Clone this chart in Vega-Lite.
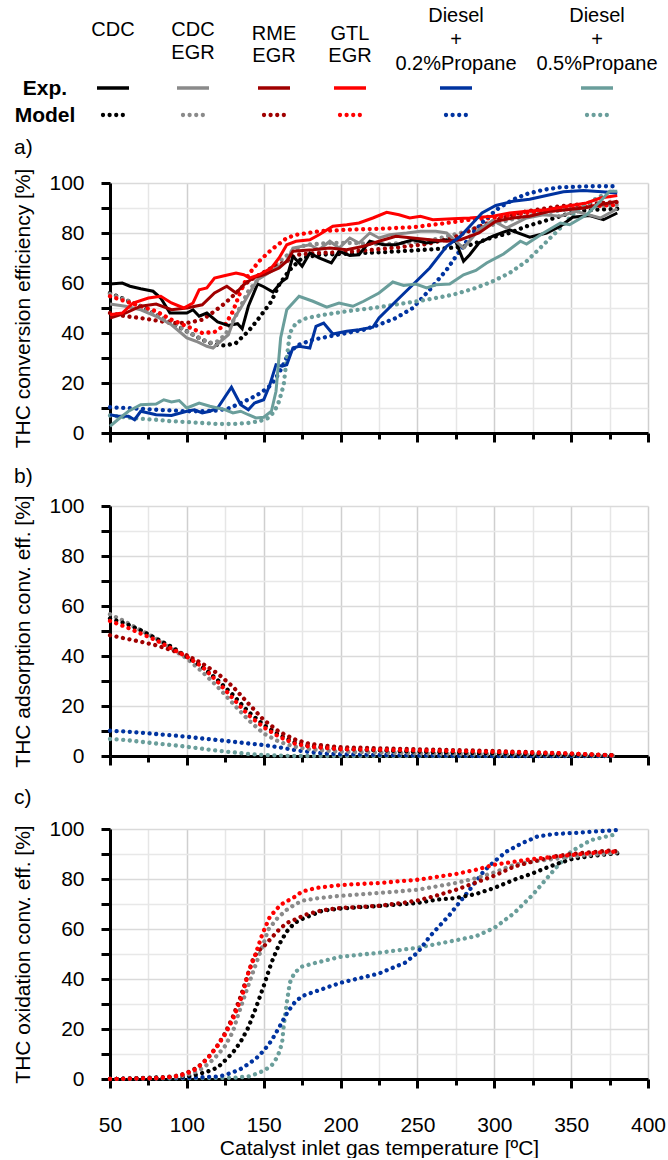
{
"$schema": "https://vega.github.io/schema/vega-lite/v6.json",
"padding": {"left": 12, "top": 0, "right": 0, "bottom": 0},
"config": {"font": "Liberation Sans", "view": {"stroke": null},
 "axis": {"domainColor": "#000000", "domainWidth": 3, "tickColor": "#000000", "tickWidth": 3, "labelFontSize": 21, "labelColor": "#000000", "titleFontSize": 21, "titleFontWeight": "normal", "titleColor": "#000000", "gridWidth": 1.5, "labelOverlap": false, "labelFlush": false},
 "title": {"fontSize": 21, "fontWeight": "normal", "color": "#000000", "anchor": "start", "frame": "group"}},
"datasets": {
"legText": [
 {"t":"CDC","x":3,"y":30,"b":0},{"t":"CDC","x":83,"y":30,"b":0},{"t":"EGR","x":83,"y":53,"b":0},
 {"t":"RME","x":164,"y":34,"b":0},{"t":"EGR","x":164,"y":56,"b":0},
 {"t":"GTL","x":240,"y":34,"b":0},{"t":"EGR","x":240,"y":56,"b":0},
 {"t":"Diesel","x":346,"y":16,"b":0},{"t":"+","x":346,"y":40,"b":0},{"t":"0.2%Propane","x":346,"y":64,"b":0},
 {"t":"Diesel","x":487,"y":16,"b":0},{"t":"+","x":487,"y":40,"b":0},{"t":"0.5%Propane","x":487,"y":64,"b":0},
 {"t":"Exp.","x":-65,"y":89,"b":1},{"t":"Model","x":-65,"y":116,"b":1}],
"legLine": [
 {"s":"CDC","k":"e","x":-13,"y":88},{"s":"CDC","k":"e","x":19,"y":88},
 {"s":"CDC EGR","k":"e","x":67,"y":88},{"s":"CDC EGR","k":"e","x":99,"y":88},
 {"s":"RME EGR","k":"e","x":148,"y":88},{"s":"RME EGR","k":"e","x":180,"y":88},
 {"s":"GTL EGR","k":"e","x":224,"y":88},{"s":"GTL EGR","k":"e","x":256,"y":88},
 {"s":"D02","k":"e","x":330,"y":88},{"s":"D02","k":"e","x":362,"y":88},
 {"s":"D05","k":"e","x":471,"y":88},{"s":"D05","k":"e","x":503,"y":88},
 {"s":"CDC","k":"m","x":-7,"y":115},{"s":"CDC","k":"m","x":13,"y":115},
 {"s":"CDC EGR","k":"m","x":73,"y":115},{"s":"CDC EGR","k":"m","x":93,"y":115},
 {"s":"RME EGR","k":"m","x":154,"y":115},{"s":"RME EGR","k":"m","x":174,"y":115},
 {"s":"GTL EGR","k":"m","x":230,"y":115},{"s":"GTL EGR","k":"m","x":250,"y":115},
 {"s":"D02","k":"m","x":336,"y":115},{"s":"D02","k":"m","x":356,"y":115},
 {"s":"D05","k":"m","x":477,"y":115},{"s":"D05","k":"m","x":497,"y":115}],
"aexp": [
{"s":"CDC","t":50,"v":59.6},{"s":"CDC","t":58,"v":60},{"s":"CDC","t":63,"v":58.7},{"s":"CDC","t":70,"v":57.7},{"s":"CDC","t":78,"v":56.7},{"s":"CDC","t":83,"v":54},{"s":"CDC","t":89,"v":48},{"s":"CDC","t":100,"v":48},{"s":"CDC","t":104,"v":49.3},{"s":"CDC","t":108,"v":46.7},{"s":"CDC","t":113,"v":48},{"s":"CDC","t":120,"v":44.4},{"s":"CDC","t":127,"v":43},{"s":"CDC","t":133,"v":43.7},{"s":"CDC","t":136,"v":41.7},{"s":"CDC","t":140,"v":50.7},{"s":"CDC","t":146,"v":59.6},{"s":"CDC","t":150,"v":58.5},{"s":"CDC","t":156,"v":56.4},{"s":"CDC","t":162,"v":60.7},{"s":"CDC","t":165,"v":62},{"s":"CDC","t":169,"v":70.7},{"s":"CDC","t":175,"v":66.7},{"s":"CDC","t":180,"v":72},{"s":"CDC","t":186,"v":70},{"s":"CDC","t":194,"v":68},{"s":"CDC","t":199,"v":72.7},{"s":"CDC","t":206,"v":71},{"s":"CDC","t":212,"v":71.3},{"s":"CDC","t":219,"v":76.7},{"s":"CDC","t":228,"v":75.3},{"s":"CDC","t":236,"v":75.3},{"s":"CDC","t":247,"v":77.3},{"s":"CDC","t":256,"v":76},{"s":"CDC","t":269,"v":77.3},{"s":"CDC","t":275,"v":76.5},{"s":"CDC","t":280,"v":68.7},{"s":"CDC","t":284,"v":71.3},{"s":"CDC","t":290,"v":76},{"s":"CDC","t":299,"v":78.7},{"s":"CDC","t":310,"v":81.3},{"s":"CDC","t":323,"v":78.3},{"s":"CDC","t":334,"v":80},{"s":"CDC","t":343,"v":82.7},{"s":"CDC","t":351,"v":86.3},{"s":"CDC","t":362,"v":87},{"s":"CDC","t":371,"v":85.3},{"s":"CDC","t":380,"v":88},
{"s":"CDC EGR","t":50,"v":51.6},{"s":"CDC EGR","t":60,"v":50.7},{"s":"CDC EGR","t":70,"v":49.3},{"s":"CDC EGR","t":80,"v":46.7},{"s":"CDC EGR","t":90,"v":43.3},{"s":"CDC EGR","t":100,"v":38},{"s":"CDC EGR","t":106,"v":36.7},{"s":"CDC EGR","t":113,"v":34.7},{"s":"CDC EGR","t":117,"v":34},{"s":"CDC EGR","t":122,"v":36.7},{"s":"CDC EGR","t":127,"v":39.3},{"s":"CDC EGR","t":131,"v":46},{"s":"CDC EGR","t":136,"v":51},{"s":"CDC EGR","t":140,"v":55.3},{"s":"CDC EGR","t":146,"v":61.3},{"s":"CDC EGR","t":155,"v":64.7},{"s":"CDC EGR","t":165,"v":68.7},{"s":"CDC EGR","t":169,"v":74},{"s":"CDC EGR","t":180,"v":75.3},{"s":"CDC EGR","t":186,"v":73.3},{"s":"CDC EGR","t":193,"v":76.7},{"s":"CDC EGR","t":199,"v":74},{"s":"CDC EGR","t":206,"v":78},{"s":"CDC EGR","t":212,"v":76},{"s":"CDC EGR","t":219,"v":80},{"s":"CDC EGR","t":225,"v":78},{"s":"CDC EGR","t":232,"v":79.3},{"s":"CDC EGR","t":243,"v":80},{"s":"CDC EGR","t":252,"v":80.7},{"s":"CDC EGR","t":262,"v":80.7},{"s":"CDC EGR","t":269,"v":80},{"s":"CDC EGR","t":275,"v":76.7},{"s":"CDC EGR","t":280,"v":74},{"s":"CDC EGR","t":290,"v":81.3},{"s":"CDC EGR","t":299,"v":85},{"s":"CDC EGR","t":308,"v":82},{"s":"CDC EGR","t":321,"v":86},{"s":"CDC EGR","t":332,"v":87.3},{"s":"CDC EGR","t":343,"v":86.7},{"s":"CDC EGR","t":353,"v":88.7},{"s":"CDC EGR","t":369,"v":86},{"s":"CDC EGR","t":380,"v":89.7},
{"s":"RME EGR","t":50,"v":46},{"s":"RME EGR","t":60,"v":48},{"s":"RME EGR","t":70,"v":50.7},{"s":"RME EGR","t":80,"v":51.6},{"s":"RME EGR","t":90,"v":49.3},{"s":"RME EGR","t":100,"v":50},{"s":"RME EGR","t":110,"v":51.3},{"s":"RME EGR","t":118,"v":56},{"s":"RME EGR","t":126,"v":58.7},{"s":"RME EGR","t":132,"v":56},{"s":"RME EGR","t":137,"v":59.3},{"s":"RME EGR","t":143,"v":62},{"s":"RME EGR","t":150,"v":63.3},{"s":"RME EGR","t":160,"v":66},{"s":"RME EGR","t":165,"v":68.7},{"s":"RME EGR","t":169,"v":72.7},{"s":"RME EGR","t":182,"v":73.3},{"s":"RME EGR","t":193,"v":74},{"s":"RME EGR","t":204,"v":73.3},{"s":"RME EGR","t":215,"v":74.7},{"s":"RME EGR","t":225,"v":76.7},{"s":"RME EGR","t":236,"v":78.7},{"s":"RME EGR","t":247,"v":78},{"s":"RME EGR","t":258,"v":77.3},{"s":"RME EGR","t":269,"v":76.7},{"s":"RME EGR","t":278,"v":77.3},{"s":"RME EGR","t":290,"v":80},{"s":"RME EGR","t":301,"v":84.7},{"s":"RME EGR","t":312,"v":86},{"s":"RME EGR","t":323,"v":86.7},{"s":"RME EGR","t":336,"v":88.7},{"s":"RME EGR","t":347,"v":89.3},{"s":"RME EGR","t":358,"v":90},{"s":"RME EGR","t":369,"v":91.3},{"s":"RME EGR","t":380,"v":92.7},
{"s":"GTL EGR","t":50,"v":47.3},{"s":"GTL EGR","t":58,"v":48},{"s":"GTL EGR","t":65,"v":52},{"s":"GTL EGR","t":75,"v":54},{"s":"GTL EGR","t":83,"v":54.7},{"s":"GTL EGR","t":90,"v":52},{"s":"GTL EGR","t":98,"v":50},{"s":"GTL EGR","t":104,"v":52},{"s":"GTL EGR","t":108,"v":57.3},{"s":"GTL EGR","t":113,"v":58},{"s":"GTL EGR","t":118,"v":62},{"s":"GTL EGR","t":125,"v":63},{"s":"GTL EGR","t":132,"v":64},{"s":"GTL EGR","t":137,"v":63.3},{"s":"GTL EGR","t":141,"v":62},{"s":"GTL EGR","t":147,"v":63.3},{"s":"GTL EGR","t":155,"v":66},{"s":"GTL EGR","t":160,"v":70},{"s":"GTL EGR","t":165,"v":75.3},{"s":"GTL EGR","t":171,"v":76.7},{"s":"GTL EGR","t":180,"v":77.3},{"s":"GTL EGR","t":186,"v":79.3},{"s":"GTL EGR","t":195,"v":82.7},{"s":"GTL EGR","t":204,"v":83.3},{"s":"GTL EGR","t":212,"v":84},{"s":"GTL EGR","t":221,"v":86},{"s":"GTL EGR","t":230,"v":88.3},{"s":"GTL EGR","t":238,"v":87.3},{"s":"GTL EGR","t":245,"v":86},{"s":"GTL EGR","t":252,"v":86.7},{"s":"GTL EGR","t":260,"v":85.3},{"s":"GTL EGR","t":273,"v":85.7},{"s":"GTL EGR","t":284,"v":86},{"s":"GTL EGR","t":299,"v":86.7},{"s":"GTL EGR","t":310,"v":88},{"s":"GTL EGR","t":321,"v":88.7},{"s":"GTL EGR","t":334,"v":89.3},{"s":"GTL EGR","t":347,"v":90.7},{"s":"GTL EGR","t":360,"v":92},{"s":"GTL EGR","t":369,"v":94},{"s":"GTL EGR","t":380,"v":95},
{"s":"D02","t":50,"v":7.3},{"s":"D02","t":55,"v":6.7},{"s":"D02","t":62,"v":6.7},{"s":"D02","t":66,"v":5.3},{"s":"D02","t":70,"v":8.7},{"s":"D02","t":80,"v":7.3},{"s":"D02","t":90,"v":7},{"s":"D02","t":100,"v":8.7},{"s":"D02","t":105,"v":9.3},{"s":"D02","t":110,"v":8},{"s":"D02","t":115,"v":8.7},{"s":"D02","t":120,"v":10},{"s":"D02","t":129,"v":18.3},{"s":"D02","t":135,"v":11.3},{"s":"D02","t":140,"v":9.3},{"s":"D02","t":144,"v":12},{"s":"D02","t":150,"v":13.3},{"s":"D02","t":154,"v":19.3},{"s":"D02","t":158,"v":27.3},{"s":"D02","t":162,"v":26.7},{"s":"D02","t":165,"v":27.3},{"s":"D02","t":169,"v":34},{"s":"D02","t":173,"v":34.7},{"s":"D02","t":180,"v":34},{"s":"D02","t":184,"v":42.7},{"s":"D02","t":189,"v":44},{"s":"D02","t":195,"v":39.6},{"s":"D02","t":204,"v":40.7},{"s":"D02","t":212,"v":41.3},{"s":"D02","t":221,"v":42.3},{"s":"D02","t":225,"v":46},{"s":"D02","t":236,"v":52.7},{"s":"D02","t":247,"v":59.3},{"s":"D02","t":258,"v":66},{"s":"D02","t":269,"v":74.7},{"s":"D02","t":278,"v":78.7},{"s":"D02","t":286,"v":84},{"s":"D02","t":292,"v":88},{"s":"D02","t":301,"v":91},{"s":"D02","t":312,"v":92.7},{"s":"D02","t":323,"v":93.5},{"s":"D02","t":334,"v":95},{"s":"D02","t":345,"v":96.5},{"s":"D02","t":358,"v":97},{"s":"D02","t":370,"v":96.5},{"s":"D02","t":380,"v":96},
{"s":"D05","t":50,"v":2.7},{"s":"D05","t":55,"v":5.3},{"s":"D05","t":62,"v":8.7},{"s":"D05","t":70,"v":11.3},{"s":"D05","t":80,"v":11.6},{"s":"D05","t":85,"v":13.3},{"s":"D05","t":90,"v":12.4},{"s":"D05","t":95,"v":13},{"s":"D05","t":100,"v":10},{"s":"D05","t":108,"v":12},{"s":"D05","t":115,"v":10.7},{"s":"D05","t":120,"v":10},{"s":"D05","t":125,"v":9.3},{"s":"D05","t":130,"v":8},{"s":"D05","t":135,"v":8.7},{"s":"D05","t":140,"v":7.3},{"s":"D05","t":145,"v":6},{"s":"D05","t":150,"v":6.3},{"s":"D05","t":155,"v":8.7},{"s":"D05","t":158,"v":16.7},{"s":"D05","t":161,"v":38},{"s":"D05","t":165,"v":49.3},{"s":"D05","t":173,"v":54.7},{"s":"D05","t":182,"v":52.7},{"s":"D05","t":191,"v":50.3},{"s":"D05","t":199,"v":52},{"s":"D05","t":208,"v":50.7},{"s":"D05","t":215,"v":52.7},{"s":"D05","t":225,"v":56},{"s":"D05","t":234,"v":60.4},{"s":"D05","t":241,"v":59},{"s":"D05","t":249,"v":59.6},{"s":"D05","t":256,"v":58},{"s":"D05","t":262,"v":59.3},{"s":"D05","t":271,"v":59.6},{"s":"D05","t":280,"v":63.3},{"s":"D05","t":288,"v":65},{"s":"D05","t":295,"v":68},{"s":"D05","t":306,"v":71.6},{"s":"D05","t":317,"v":76.7},{"s":"D05","t":321,"v":75.6},{"s":"D05","t":332,"v":80},{"s":"D05","t":343,"v":84},{"s":"D05","t":349,"v":83.3},{"s":"D05","t":360,"v":87.3},{"s":"D05","t":369,"v":92.7},{"s":"D05","t":375,"v":96.7},{"s":"D05","t":380,"v":96.7}],
"amod": [
{"s":"CDC","t":50,"v":56},{"s":"CDC","t":60,"v":53.3},{"s":"CDC","t":70,"v":50.7},{"s":"CDC","t":80,"v":47.3},{"s":"CDC","t":90,"v":44},{"s":"CDC","t":100,"v":40.7},{"s":"CDC","t":110,"v":37.3},{"s":"CDC","t":118,"v":35.3},{"s":"CDC","t":125,"v":35},{"s":"CDC","t":132,"v":36},{"s":"CDC","t":140,"v":40.7},{"s":"CDC","t":147,"v":46},{"s":"CDC","t":155,"v":52.7},{"s":"CDC","t":160,"v":59.3},{"s":"CDC","t":167,"v":65.3},{"s":"CDC","t":175,"v":70},{"s":"CDC","t":186,"v":71.3},{"s":"CDC","t":199,"v":71.6},{"s":"CDC","t":215,"v":72},{"s":"CDC","t":230,"v":72.4},{"s":"CDC","t":247,"v":73},{"s":"CDC","t":265,"v":73.7},{"s":"CDC","t":282,"v":74.7},{"s":"CDC","t":288,"v":76},{"s":"CDC","t":299,"v":78.3},{"s":"CDC","t":310,"v":80},{"s":"CDC","t":321,"v":82.7},{"s":"CDC","t":332,"v":84.7},{"s":"CDC","t":343,"v":86.7},{"s":"CDC","t":353,"v":88.7},{"s":"CDC","t":365,"v":89.3},{"s":"CDC","t":380,"v":89.7},
{"s":"CDC EGR","t":50,"v":55.6},{"s":"CDC EGR","t":60,"v":53.3},{"s":"CDC EGR","t":70,"v":50.7},{"s":"CDC EGR","t":80,"v":47.3},{"s":"CDC EGR","t":90,"v":44.4},{"s":"CDC EGR","t":100,"v":40.7},{"s":"CDC EGR","t":110,"v":37.3},{"s":"CDC EGR","t":115,"v":36},{"s":"CDC EGR","t":120,"v":36.7},{"s":"CDC EGR","t":125,"v":39.3},{"s":"CDC EGR","t":130,"v":44.7},{"s":"CDC EGR","t":135,"v":50.7},{"s":"CDC EGR","t":140,"v":56.7},{"s":"CDC EGR","t":147,"v":62},{"s":"CDC EGR","t":155,"v":66},{"s":"CDC EGR","t":163,"v":70},{"s":"CDC EGR","t":170,"v":73.5},{"s":"CDC EGR","t":178,"v":75.3},{"s":"CDC EGR","t":193,"v":76},{"s":"CDC EGR","t":208,"v":76},{"s":"CDC EGR","t":225,"v":75.5},{"s":"CDC EGR","t":243,"v":76},{"s":"CDC EGR","t":260,"v":77.3},{"s":"CDC EGR","t":278,"v":80},{"s":"CDC EGR","t":288,"v":82},{"s":"CDC EGR","t":299,"v":83.3},{"s":"CDC EGR","t":310,"v":85.3},{"s":"CDC EGR","t":321,"v":86.7},{"s":"CDC EGR","t":332,"v":88},{"s":"CDC EGR","t":343,"v":89},{"s":"CDC EGR","t":353,"v":90},{"s":"CDC EGR","t":365,"v":90.7},{"s":"CDC EGR","t":380,"v":91.3},
{"s":"RME EGR","t":50,"v":48},{"s":"RME EGR","t":60,"v":46.7},{"s":"RME EGR","t":70,"v":46},{"s":"RME EGR","t":80,"v":45},{"s":"RME EGR","t":90,"v":44},{"s":"RME EGR","t":100,"v":44},{"s":"RME EGR","t":110,"v":45.3},{"s":"RME EGR","t":118,"v":48.7},{"s":"RME EGR","t":125,"v":52},{"s":"RME EGR","t":132,"v":56},{"s":"RME EGR","t":140,"v":60.7},{"s":"RME EGR","t":147,"v":63.3},{"s":"RME EGR","t":155,"v":66},{"s":"RME EGR","t":165,"v":68.7},{"s":"RME EGR","t":171,"v":71.3},{"s":"RME EGR","t":186,"v":72},{"s":"RME EGR","t":204,"v":72.4},{"s":"RME EGR","t":221,"v":73.3},{"s":"RME EGR","t":238,"v":74.3},{"s":"RME EGR","t":256,"v":75.6},{"s":"RME EGR","t":273,"v":78},{"s":"RME EGR","t":288,"v":82},{"s":"RME EGR","t":299,"v":84.7},{"s":"RME EGR","t":310,"v":87},{"s":"RME EGR","t":321,"v":88.7},{"s":"RME EGR","t":332,"v":89.7},{"s":"RME EGR","t":343,"v":90.7},{"s":"RME EGR","t":353,"v":91.3},{"s":"RME EGR","t":380,"v":92.4},
{"s":"GTL EGR","t":50,"v":54.7},{"s":"GTL EGR","t":60,"v":52.7},{"s":"GTL EGR","t":70,"v":50.7},{"s":"GTL EGR","t":80,"v":48.7},{"s":"GTL EGR","t":90,"v":45.3},{"s":"GTL EGR","t":100,"v":42.7},{"s":"GTL EGR","t":110,"v":40},{"s":"GTL EGR","t":118,"v":40.4},{"s":"GTL EGR","t":125,"v":43.3},{"s":"GTL EGR","t":130,"v":48.7},{"s":"GTL EGR","t":135,"v":56.7},{"s":"GTL EGR","t":140,"v":63.3},{"s":"GTL EGR","t":147,"v":68.7},{"s":"GTL EGR","t":155,"v":73.3},{"s":"GTL EGR","t":165,"v":78},{"s":"GTL EGR","t":171,"v":79.3},{"s":"GTL EGR","t":186,"v":80.7},{"s":"GTL EGR","t":204,"v":81.3},{"s":"GTL EGR","t":225,"v":81.7},{"s":"GTL EGR","t":247,"v":82.3},{"s":"GTL EGR","t":269,"v":84},{"s":"GTL EGR","t":284,"v":85.3},{"s":"GTL EGR","t":299,"v":86},{"s":"GTL EGR","t":321,"v":88},{"s":"GTL EGR","t":343,"v":89.3},{"s":"GTL EGR","t":365,"v":90.7},{"s":"GTL EGR","t":380,"v":91.3},
{"s":"D02","t":50,"v":10.3},{"s":"D02","t":60,"v":10},{"s":"D02","t":70,"v":9.7},{"s":"D02","t":80,"v":9.3},{"s":"D02","t":90,"v":9},{"s":"D02","t":100,"v":8.7},{"s":"D02","t":110,"v":8.7},{"s":"D02","t":120,"v":9},{"s":"D02","t":128,"v":10},{"s":"D02","t":135,"v":12},{"s":"D02","t":142,"v":14},{"s":"D02","t":148,"v":16},{"s":"D02","t":155,"v":19.3},{"s":"D02","t":160,"v":24},{"s":"D02","t":167,"v":32.7},{"s":"D02","t":173,"v":35.3},{"s":"D02","t":182,"v":37.3},{"s":"D02","t":193,"v":38.7},{"s":"D02","t":204,"v":40},{"s":"D02","t":215,"v":41.3},{"s":"D02","t":225,"v":43.3},{"s":"D02","t":236,"v":46},{"s":"D02","t":247,"v":50},{"s":"D02","t":258,"v":57.3},{"s":"D02","t":269,"v":65.3},{"s":"D02","t":278,"v":73.3},{"s":"D02","t":286,"v":80},{"s":"D02","t":295,"v":86},{"s":"D02","t":303,"v":90},{"s":"D02","t":312,"v":93.3},{"s":"D02","t":321,"v":95.6},{"s":"D02","t":332,"v":97.3},{"s":"D02","t":343,"v":98.3},{"s":"D02","t":364,"v":98.7},{"s":"D02","t":380,"v":98.7},
{"s":"D05","t":50,"v":7},{"s":"D05","t":60,"v":6.3},{"s":"D05","t":70,"v":5.7},{"s":"D05","t":80,"v":5.3},{"s":"D05","t":90,"v":4.7},{"s":"D05","t":100,"v":4.4},{"s":"D05","t":110,"v":4},{"s":"D05","t":120,"v":3.6},{"s":"D05","t":130,"v":3.6},{"s":"D05","t":140,"v":4},{"s":"D05","t":147,"v":4.7},{"s":"D05","t":153,"v":6},{"s":"D05","t":157,"v":8.7},{"s":"D05","t":160,"v":12.7},{"s":"D05","t":163,"v":19.3},{"s":"D05","t":165,"v":30},{"s":"D05","t":167,"v":40},{"s":"D05","t":171,"v":44},{"s":"D05","t":178,"v":46},{"s":"D05","t":189,"v":47.3},{"s":"D05","t":204,"v":48.7},{"s":"D05","t":221,"v":50},{"s":"D05","t":238,"v":51.6},{"s":"D05","t":256,"v":53.3},{"s":"D05","t":273,"v":55.3},{"s":"D05","t":288,"v":58},{"s":"D05","t":299,"v":60.7},{"s":"D05","t":310,"v":64},{"s":"D05","t":321,"v":68.7},{"s":"D05","t":332,"v":75.3},{"s":"D05","t":343,"v":82},{"s":"D05","t":353,"v":88.7},{"s":"D05","t":365,"v":93.3},{"s":"D05","t":373,"v":96},{"s":"D05","t":380,"v":96.7}],
"bmod": [
{"s":"D05","t":50,"v":6.8},{"s":"D05","t":60,"v":6.4},{"s":"D05","t":70,"v":5.7},{"s":"D05","t":80,"v":5},{"s":"D05","t":90,"v":4.4},{"s":"D05","t":100,"v":3.7},{"s":"D05","t":110,"v":2.9},{"s":"D05","t":120,"v":2.1},{"s":"D05","t":130,"v":1.5},{"s":"D05","t":140,"v":0.8},{"s":"D05","t":150,"v":0.4},{"s":"D05","t":160,"v":0.2},{"s":"D05","t":170,"v":0},{"s":"D05","t":380,"v":0},
{"s":"D02","t":50,"v":10.1},{"s":"D02","t":60,"v":9.8},{"s":"D02","t":70,"v":9.3},{"s":"D02","t":80,"v":8.8},{"s":"D02","t":90,"v":8.3},{"s":"D02","t":100,"v":7.7},{"s":"D02","t":110,"v":7},{"s":"D02","t":120,"v":6.4},{"s":"D02","t":130,"v":5.7},{"s":"D02","t":140,"v":5},{"s":"D02","t":150,"v":4.4},{"s":"D02","t":160,"v":3.5},{"s":"D02","t":170,"v":2.4},{"s":"D02","t":180,"v":1.6},{"s":"D02","t":190,"v":1},{"s":"D02","t":200,"v":0.7},{"s":"D02","t":250,"v":0.2},{"s":"D02","t":300,"v":0},{"s":"D02","t":380,"v":0},
{"s":"CDC EGR","t":50,"v":56.7},{"s":"CDC EGR","t":60,"v":53.7},{"s":"CDC EGR","t":70,"v":50.3},{"s":"CDC EGR","t":80,"v":47},{"s":"CDC EGR","t":90,"v":43},{"s":"CDC EGR","t":100,"v":39},{"s":"CDC EGR","t":110,"v":33.7},{"s":"CDC EGR","t":120,"v":27.7},{"s":"CDC EGR","t":130,"v":21},{"s":"CDC EGR","t":140,"v":14.4},{"s":"CDC EGR","t":150,"v":9},{"s":"CDC EGR","t":160,"v":5.7},{"s":"CDC EGR","t":170,"v":3.7},{"s":"CDC EGR","t":180,"v":2.7},{"s":"CDC EGR","t":200,"v":1.7},{"s":"CDC EGR","t":250,"v":1},{"s":"CDC EGR","t":300,"v":0.7},{"s":"CDC EGR","t":350,"v":0.3},{"s":"CDC EGR","t":380,"v":0.1},
{"s":"CDC","t":50,"v":55},{"s":"CDC","t":60,"v":53},{"s":"CDC","t":70,"v":50.3},{"s":"CDC","t":80,"v":47},{"s":"CDC","t":90,"v":43.7},{"s":"CDC","t":100,"v":39.7},{"s":"CDC","t":110,"v":35.7},{"s":"CDC","t":120,"v":30.4},{"s":"CDC","t":130,"v":24.4},{"s":"CDC","t":140,"v":17.7},{"s":"CDC","t":150,"v":12.4},{"s":"CDC","t":160,"v":8.4},{"s":"CDC","t":170,"v":5.5},{"s":"CDC","t":180,"v":4},{"s":"CDC","t":200,"v":2.8},{"s":"CDC","t":250,"v":1.7},{"s":"CDC","t":300,"v":1},{"s":"CDC","t":350,"v":0.5},{"s":"CDC","t":380,"v":0.3},
{"s":"RME EGR","t":50,"v":48.3},{"s":"RME EGR","t":60,"v":47},{"s":"RME EGR","t":70,"v":45.7},{"s":"RME EGR","t":80,"v":44.3},{"s":"RME EGR","t":90,"v":42.3},{"s":"RME EGR","t":100,"v":40.3},{"s":"RME EGR","t":110,"v":37},{"s":"RME EGR","t":120,"v":33},{"s":"RME EGR","t":130,"v":27.7},{"s":"RME EGR","t":140,"v":21},{"s":"RME EGR","t":150,"v":14.4},{"s":"RME EGR","t":160,"v":9.7},{"s":"RME EGR","t":170,"v":6.7},{"s":"RME EGR","t":180,"v":4.8},{"s":"RME EGR","t":200,"v":3.5},{"s":"RME EGR","t":250,"v":2.7},{"s":"RME EGR","t":300,"v":2},{"s":"RME EGR","t":350,"v":1},{"s":"RME EGR","t":380,"v":0.2},
{"s":"GTL EGR","t":50,"v":54},{"s":"GTL EGR","t":60,"v":51.7},{"s":"GTL EGR","t":70,"v":49},{"s":"GTL EGR","t":80,"v":46.3},{"s":"GTL EGR","t":90,"v":43},{"s":"GTL EGR","t":100,"v":39.7},{"s":"GTL EGR","t":110,"v":35.7},{"s":"GTL EGR","t":120,"v":29.7},{"s":"GTL EGR","t":130,"v":23},{"s":"GTL EGR","t":140,"v":16.4},{"s":"GTL EGR","t":150,"v":11.5},{"s":"GTL EGR","t":160,"v":7.7},{"s":"GTL EGR","t":170,"v":5},{"s":"GTL EGR","t":180,"v":3.7},{"s":"GTL EGR","t":200,"v":2.7},{"s":"GTL EGR","t":250,"v":2.2},{"s":"GTL EGR","t":300,"v":1.6},{"s":"GTL EGR","t":350,"v":1},{"s":"GTL EGR","t":377,"v":0.2}],
"cmod": [
{"s":"D05","t":50,"v":0},{"s":"D05","t":130,"v":0.5},{"s":"D05","t":140,"v":1},{"s":"D05","t":145,"v":2},{"s":"D05","t":150,"v":3.3},{"s":"D05","t":155,"v":5.3},{"s":"D05","t":158,"v":8},{"s":"D05","t":160,"v":10.6},{"s":"D05","t":162,"v":14.6},{"s":"D05","t":163,"v":21.2},{"s":"D05","t":165,"v":30.5},{"s":"D05","t":167,"v":38.5},{"s":"D05","t":170,"v":42.5},{"s":"D05","t":175,"v":45},{"s":"D05","t":184,"v":46.5},{"s":"D05","t":200,"v":48.9},{"s":"D05","t":225,"v":50.5},{"s":"D05","t":250,"v":52.5},{"s":"D05","t":275,"v":55.5},{"s":"D05","t":288,"v":57.1},{"s":"D05","t":300,"v":60.4},{"s":"D05","t":313,"v":66.4},{"s":"D05","t":325,"v":73.7},{"s":"D05","t":339,"v":83.7},{"s":"D05","t":350,"v":91},{"s":"D05","t":363,"v":95.6},{"s":"D05","t":380,"v":98},
{"s":"D02","t":50,"v":0},{"s":"D02","t":110,"v":0.7},{"s":"D02","t":120,"v":1},{"s":"D02","t":125,"v":1.6},{"s":"D02","t":130,"v":2.7},{"s":"D02","t":135,"v":4},{"s":"D02","t":140,"v":6},{"s":"D02","t":145,"v":8.2},{"s":"D02","t":150,"v":11.3},{"s":"D02","t":155,"v":15.3},{"s":"D02","t":160,"v":20.6},{"s":"D02","t":163,"v":24},{"s":"D02","t":166,"v":27.2},{"s":"D02","t":170,"v":30.5},{"s":"D02","t":175,"v":33.2},{"s":"D02","t":184,"v":35.1},{"s":"D02","t":200,"v":38.5},{"s":"D02","t":225,"v":42.2},{"s":"D02","t":242,"v":46.5},{"s":"D02","t":250,"v":50.5},{"s":"D02","t":258,"v":57},{"s":"D02","t":264,"v":61},{"s":"D02","t":271,"v":65.7},{"s":"D02","t":277,"v":70.4},{"s":"D02","t":284,"v":75.7},{"s":"D02","t":293,"v":83},{"s":"D02","t":300,"v":87},{"s":"D02","t":308,"v":91},{"s":"D02","t":317,"v":94},{"s":"D02","t":328,"v":97},{"s":"D02","t":339,"v":98},{"s":"D02","t":354,"v":98.5},{"s":"D02","t":380,"v":99.6},
{"s":"CDC","t":50,"v":0},{"s":"CDC","t":100,"v":1},{"s":"CDC","t":105,"v":1.6},{"s":"CDC","t":110,"v":2.4},{"s":"CDC","t":115,"v":3.3},{"s":"CDC","t":120,"v":4.6},{"s":"CDC","t":125,"v":7.5},{"s":"CDC","t":130,"v":10.6},{"s":"CDC","t":135,"v":14.9},{"s":"CDC","t":140,"v":20.6},{"s":"CDC","t":145,"v":28.6},{"s":"CDC","t":150,"v":37.2},{"s":"CDC","t":155,"v":46.5},{"s":"CDC","t":160,"v":53.8},{"s":"CDC","t":165,"v":59},{"s":"CDC","t":170,"v":62.4},{"s":"CDC","t":175,"v":64},{"s":"CDC","t":188,"v":67.3},{"s":"CDC","t":200,"v":68.2},{"s":"CDC","t":225,"v":69.2},{"s":"CDC","t":250,"v":70.4},{"s":"CDC","t":262,"v":71.7},{"s":"CDC","t":275,"v":72.4},{"s":"CDC","t":288,"v":74},{"s":"CDC","t":300,"v":76.4},{"s":"CDC","t":313,"v":79.7},{"s":"CDC","t":325,"v":82.3},{"s":"CDC","t":339,"v":85.7},{"s":"CDC","t":350,"v":87.9},{"s":"CDC","t":363,"v":89.2},{"s":"CDC","t":380,"v":90.3},
{"s":"CDC EGR","t":50,"v":0},{"s":"CDC EGR","t":90,"v":0.5},{"s":"CDC EGR","t":95,"v":1},{"s":"CDC EGR","t":100,"v":1.6},{"s":"CDC EGR","t":105,"v":2.7},{"s":"CDC EGR","t":110,"v":4.2},{"s":"CDC EGR","t":115,"v":6.6},{"s":"CDC EGR","t":120,"v":9.6},{"s":"CDC EGR","t":125,"v":13.3},{"s":"CDC EGR","t":130,"v":19},{"s":"CDC EGR","t":133,"v":25},{"s":"CDC EGR","t":139,"v":35.7},{"s":"CDC EGR","t":142,"v":41},{"s":"CDC EGR","t":146,"v":47.8},{"s":"CDC EGR","t":150,"v":54.4},{"s":"CDC EGR","t":153,"v":59.8},{"s":"CDC EGR","t":159,"v":64.4},{"s":"CDC EGR","t":165,"v":67.7},{"s":"CDC EGR","t":170,"v":69.7},{"s":"CDC EGR","t":175,"v":71.3},{"s":"CDC EGR","t":184,"v":72.2},{"s":"CDC EGR","t":200,"v":73.3},{"s":"CDC EGR","t":225,"v":74.4},{"s":"CDC EGR","t":250,"v":75.7},{"s":"CDC EGR","t":275,"v":78.4},{"s":"CDC EGR","t":288,"v":80.3},{"s":"CDC EGR","t":300,"v":82.6},{"s":"CDC EGR","t":313,"v":85.7},{"s":"CDC EGR","t":325,"v":87},{"s":"CDC EGR","t":339,"v":88},{"s":"CDC EGR","t":350,"v":89},{"s":"CDC EGR","t":375,"v":90.3},{"s":"CDC EGR","t":380,"v":90.7},
{"s":"RME EGR","t":50,"v":0},{"s":"RME EGR","t":80,"v":0.4},{"s":"RME EGR","t":90,"v":1},{"s":"RME EGR","t":95,"v":1.5},{"s":"RME EGR","t":100,"v":2.5},{"s":"RME EGR","t":105,"v":4},{"s":"RME EGR","t":110,"v":6.2},{"s":"RME EGR","t":115,"v":9.5},{"s":"RME EGR","t":120,"v":13.5},{"s":"RME EGR","t":125,"v":18.5},{"s":"RME EGR","t":130,"v":25},{"s":"RME EGR","t":135,"v":33},{"s":"RME EGR","t":140,"v":42.5},{"s":"RME EGR","t":143,"v":47.8},{"s":"RME EGR","t":146,"v":51},{"s":"RME EGR","t":150,"v":53},{"s":"RME EGR","t":155,"v":56.4},{"s":"RME EGR","t":160,"v":59.8},{"s":"RME EGR","t":165,"v":62.4},{"s":"RME EGR","t":170,"v":63.7},{"s":"RME EGR","t":177,"v":65.7},{"s":"RME EGR","t":188,"v":67.5},{"s":"RME EGR","t":200,"v":68.4},{"s":"RME EGR","t":225,"v":69.3},{"s":"RME EGR","t":240,"v":70.4},{"s":"RME EGR","t":250,"v":71.4},{"s":"RME EGR","t":262,"v":73.3},{"s":"RME EGR","t":275,"v":75.7},{"s":"RME EGR","t":288,"v":78.6},{"s":"RME EGR","t":300,"v":81.3},{"s":"RME EGR","t":313,"v":85},{"s":"RME EGR","t":325,"v":87},{"s":"RME EGR","t":339,"v":89},{"s":"RME EGR","t":350,"v":90},{"s":"RME EGR","t":375,"v":91.4},{"s":"RME EGR","t":380,"v":91},
{"s":"GTL EGR","t":50,"v":0},{"s":"GTL EGR","t":80,"v":0.3},{"s":"GTL EGR","t":90,"v":0.8},{"s":"GTL EGR","t":95,"v":1.3},{"s":"GTL EGR","t":100,"v":2.3},{"s":"GTL EGR","t":105,"v":3.7},{"s":"GTL EGR","t":110,"v":6},{"s":"GTL EGR","t":115,"v":9.3},{"s":"GTL EGR","t":120,"v":13.3},{"s":"GTL EGR","t":125,"v":18},{"s":"GTL EGR","t":130,"v":24},{"s":"GTL EGR","t":136,"v":33.2},{"s":"GTL EGR","t":140,"v":42.5},{"s":"GTL EGR","t":145,"v":50.5},{"s":"GTL EGR","t":149,"v":57.8},{"s":"GTL EGR","t":154,"v":64.9},{"s":"GTL EGR","t":161,"v":69.7},{"s":"GTL EGR","t":170,"v":72.8},{"s":"GTL EGR","t":175,"v":75},{"s":"GTL EGR","t":184,"v":76.4},{"s":"GTL EGR","t":200,"v":77.6},{"s":"GTL EGR","t":225,"v":78.4},{"s":"GTL EGR","t":250,"v":79.7},{"s":"GTL EGR","t":275,"v":82},{"s":"GTL EGR","t":288,"v":83.7},{"s":"GTL EGR","t":300,"v":85.7},{"s":"GTL EGR","t":325,"v":88},{"s":"GTL EGR","t":350,"v":89.6},{"s":"GTL EGR","t":375,"v":91},{"s":"GTL EGR","t":380,"v":90.8}]
},
"vconcat": [
 {"width": 538, "height": 110,
  "layer": [
   {"data": {"name": "legText"}, "transform": [{"filter": "datum.b == 0"}], "mark": {"type": "text", "fontSize": 20, "align": "center", "baseline": "middle", "color": "#000000"},
    "encoding": {"x": {"field": "x", "type": "quantitative", "scale": {"domain": [0, 538], "nice": false, "zero": false}, "axis": null},
                 "y": {"field": "y", "type": "quantitative", "scale": {"domain": [0, 110], "reverse": true, "nice": false, "zero": false}, "axis": null},
                 "text": {"field": "t"}}},
   {"data": {"name": "legText"}, "transform": [{"filter": "datum.b == 1"}], "mark": {"type": "text", "fontSize": 21, "fontWeight": "bold", "align": "center", "baseline": "middle", "color": "#000000"},
    "encoding": {"x": {"field": "x", "type": "quantitative"}, "y": {"field": "y", "type": "quantitative"}, "text": {"field": "t"}}},
   {"data": {"name": "legLine"}, "transform": [{"filter": "datum.k == 'e'"}], "mark": {"type": "line", "strokeWidth": 3.5},
    "encoding": {"x": {"field": "x", "type": "quantitative"}, "y": {"field": "y", "type": "quantitative"},
                 "color": {"field": "s", "type": "nominal", "scale": {"domain": ["CDC","CDC EGR","RME EGR","GTL EGR","D02","D05"], "range": ["#000000","#8a8a8a","#a00000","#ff0000","#0033a0","#6a9e9b"]}, "legend": null}}},
   {"data": {"name": "legLine"}, "transform": [{"filter": "datum.k == 'm'"}], "mark": {"type": "line", "strokeWidth": 4.3, "strokeDash": [0.01, 6.6], "strokeCap": "round"},
    "encoding": {"x": {"field": "x", "type": "quantitative"}, "y": {"field": "y", "type": "quantitative"},
                 "color": {"field": "s", "type": "nominal", "legend": null}}}
  ]},
 {"width": 538, "height": 250,
  "title": {"text": "a)", "dx": -96, "offset": 10},
  "encoding": {
    "x": {"field": "t", "type": "quantitative", "scale": {"domain": [50, 400], "nice": false, "zero": false},
          "axis": {"values": [50,75,100,125,150,175,200,225,250,275,300,325,350,375,400], "labels": false, "title": null,
                   "tickSize": {"condition": {"test": "datum.value % 50 === 0", "value": 9}, "value": 6},
                   "gridColor": {"condition": {"test": "datum.value % 50 === 0", "value": "#cfcfcf"}, "value": "#e6e6e6"}}},
    "y": {"field": "v", "type": "quantitative", "scale": {"domain": [0, 100], "nice": false},
          "axis": {"values": [0,10,20,30,40,50,60,70,80,90,100], "labelExpr": "datum.value % 20 === 0 ? datum.label : ''", "tickSize": 9, "labelPadding": 17, "titlePadding": 15,
                   "title": "THC conversion efficiency [%]",
                   "gridColor": {"condition": {"test": "datum.value % 20 === 0", "value": "#dadada"}, "value": "#e8e8e8"}}},
    "color": {"field": "s", "type": "nominal", "legend": null}},
  "layer": [
    {"data": {"name": "amod"}, "mark": {"type": "line", "strokeWidth": 4.3, "strokeDash": [0.01, 6.6], "strokeCap": "round"}},
    {"data": {"name": "aexp"}, "mark": {"type": "line", "strokeWidth": 3}}
  ]},
 {"width": 538, "height": 250,
  "title": {"text": "b)", "dx": -96, "offset": 8},
  "data": {"name": "bmod"},
  "mark": {"type": "line", "strokeWidth": 4.3, "strokeDash": [0.01, 6.6], "strokeCap": "round"},
  "encoding": {
    "x": {"field": "t", "type": "quantitative", "scale": {"domain": [50, 400], "nice": false, "zero": false},
          "axis": {"values": [50,75,100,125,150,175,200,225,250,275,300,325,350,375,400], "labels": false, "title": null,
                   "tickSize": {"condition": {"test": "datum.value % 50 === 0", "value": 9}, "value": 6},
                   "gridColor": {"condition": {"test": "datum.value % 50 === 0", "value": "#cfcfcf"}, "value": "#e6e6e6"}}},
    "y": {"field": "v", "type": "quantitative", "scale": {"domain": [0, 100], "nice": false},
          "axis": {"values": [0,10,20,30,40,50,60,70,80,90,100], "labelExpr": "datum.value % 20 === 0 ? datum.label : ''", "tickSize": 9, "labelPadding": 17, "titlePadding": 15,
                   "title": "THC adsorption conv. eff. [%]",
                   "gridColor": {"condition": {"test": "datum.value % 20 === 0", "value": "#dadada"}, "value": "#e8e8e8"}}},
    "color": {"field": "s", "type": "nominal", "legend": null}}},
 {"width": 538, "height": 250,
  "title": {"text": "c)", "dx": -96, "offset": 10},
  "data": {"name": "cmod"},
  "mark": {"type": "line", "strokeWidth": 4.3, "strokeDash": [0.01, 6.6], "strokeCap": "round"},
  "encoding": {
    "x": {"field": "t", "type": "quantitative", "scale": {"domain": [50, 400], "nice": false, "zero": false},
          "axis": {"values": [50,75,100,125,150,175,200,225,250,275,300,325,350,375,400], "labelExpr": "datum.value % 50 === 0 ? datum.label : ''",
                   "title": "Catalyst inlet gas temperature [ºC]", "labelPadding": 26, "titlePadding": 2,
                   "tickSize": {"condition": {"test": "datum.value % 50 === 0", "value": 9}, "value": 6},
                   "gridColor": {"condition": {"test": "datum.value % 50 === 0", "value": "#cfcfcf"}, "value": "#e6e6e6"}}},
    "y": {"field": "v", "type": "quantitative", "scale": {"domain": [0, 100], "nice": false},
          "axis": {"values": [0,10,20,30,40,50,60,70,80,90,100], "labelExpr": "datum.value % 20 === 0 ? datum.label : ''", "tickSize": 9, "labelPadding": 17, "titlePadding": 15,
                   "title": "THC oxidation conv. eff. [%]",
                   "gridColor": {"condition": {"test": "datum.value % 20 === 0", "value": "#dadada"}, "value": "#e8e8e8"}}},
    "color": {"field": "s", "type": "nominal", "legend": null}}}
],
"spacing": 73,
"bounds": "flush"
}
